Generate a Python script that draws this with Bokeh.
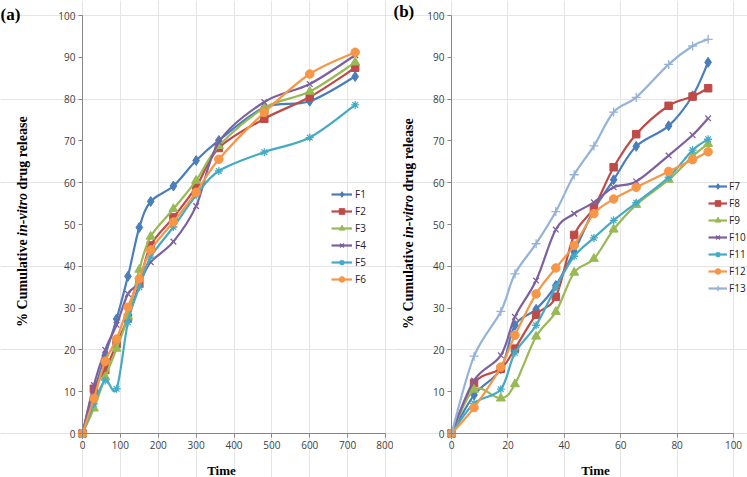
import math
from bokeh.plotting import figure
from bokeh.layouts import row
from bokeh.models import (Range1d, FixedTicker, Label, Legend, LegendItem, ColumnDataSource,
                          LinearAxis)
from bokeh.embed import file_html
from bokeh.resources import INLINE

# ---------------- data ----------------
time_a = [0, 30, 60, 90, 120, 150, 180, 240, 300, 360, 480, 600, 720]
F1 = [0, 9.8, 18.7, 27.4, 37.6, 49.3, 55.5, 59.2, 65.3, 70.1, 78.0, 79.5, 85.4]
F2 = [0, 10.7, 15.2, 21.4, 27.7, 35.8, 45.0, 51.7, 59.0, 68.3, 75.3, 80.5, 87.5]
F3 = [0, 6.0, 13.5, 20.3, 28.0, 39.2, 47.1, 53.7, 60.5, 68.8, 77.9, 81.8, 88.8]
F4 = [0, 11.6, 20.0, 26.0, 33.4, 36.0, 41.0, 45.9, 54.4, 69.7, 79.3, 83.6, 90.5]
F5 = [0, 7.1, 12.7, 10.7, 26.6, 35.0, 42.2, 49.4, 57.0, 62.8, 67.3, 70.8, 78.6]
F6 = [0, 8.4, 17.3, 22.6, 30.2, 37.0, 43.9, 50.6, 57.7, 65.6, 76.8, 86.0, 91.2]

time_b = [0, 8, 17.5, 22.5, 30, 37, 43.5, 50.5, 57.5, 65.5, 77, 85.5, 91]
F7 = [0, 9.2, 15.5, 25.9, 29.7, 35.4, 43.5, 53.5, 60.7, 68.7, 73.6, 80.8, 88.8]
F8 = [0, 12.1, 15.5, 20.3, 28.4, 32.7, 47.5, 54.0, 63.7, 71.6, 78.4, 80.6, 82.6]
F9 = [0, 10.5, 8.4, 11.8, 23.2, 29.1, 38.5, 41.8, 48.8, 54.7, 60.7, 66.3, 69.3]
F10 = [0, 12.7, 18.7, 27.9, 36.6, 48.8, 52.6, 55.3, 58.9, 60.3, 66.5, 71.4, 75.4]
F11 = [0, 7.2, 10.6, 19.3, 25.9, 35.0, 42.4, 46.8, 51.0, 55.2, 61.3, 67.8, 70.4]
F12 = [0, 6.2, 15.9, 23.5, 33.4, 39.6, 45.0, 52.6, 56.1, 58.9, 62.7, 65.5, 67.4]
F13 = [0, 18.5, 29.2, 38.2, 45.4, 53.1, 61.9, 68.8, 76.9, 80.4, 88.3, 92.7, 94.3]

x_ticks_a = [0, 100, 200, 300, 400, 500, 600, 700, 800]
x_ticks_b = [0, 20, 40, 60, 80, 100]
y_ticks = [0, 10, 20, 30, 40, 50, 60, 70, 80, 90, 100]

series_a = [("F1", F1), ("F2", F2), ("F3", F3), ("F4", F4), ("F5", F5), ("F6", F6)]
series_b = [("F7", F7), ("F8", F8), ("F9", F9), ("F10", F10), ("F11", F11), ("F12", F12),
            ("F13", F13)]

# ---------------- styles / layout (pixels) ----------------
H = 477
STYLES = [
    ("#4A7EBB", "diamond", 10),
    ("#BE4B48", "square", 7.5),
    ("#98B954", "triangle", 9),
    ("#7D60A0", "x", 8),
    ("#46AAC5", "asterisk", 8),
    ("#F79646", "circle", 8.5),
    ("#95B3D7", "cross", 9),
]
LINE_MARKERS = {"x", "asterisk", "cross"}


def smooth_source(xs, ys):
    n = len(xs)
    d = dict(x0=[], y0=[], x1=[], y1=[], cx0=[], cy0=[], cx1=[], cy1=[])
    for i in range(n - 1):
        xm, ym = (xs[i - 1], ys[i - 1]) if i > 0 else (xs[i], ys[i])
        xp, yp = (xs[i + 2], ys[i + 2]) if i + 2 < n else (xs[i + 1], ys[i + 1])
        d["x0"].append(xs[i]); d["y0"].append(ys[i])
        d["x1"].append(xs[i + 1]); d["y1"].append(ys[i + 1])
        d["cx0"].append(xs[i] + (xs[i + 1] - xm) / 6.0)
        d["cy0"].append(ys[i] + (ys[i + 1] - ym) / 6.0)
        d["cx1"].append(xs[i + 1] - (xp - xs[i]) / 6.0)
        d["cy1"].append(ys[i + 1] - (yp - ys[i]) / 6.0)
    return ColumnDataSource(d)


def make_fig(canvas_left, canvas_width, px0, px1, xmax, xticks):
    # axis origin / end positions in page pixels: x0->px0, xmax->px1 ; y 0->433, 100->15
    py0, py1 = 433.0, 15.0
    kx = (px1 - px0) / xmax
    ky = (py0 - py1) / 100.0
    x_start = -(px0 - canvas_left) / kx
    x_end = xmax + (canvas_left + canvas_width - px1) / kx
    y_start = -(H - py0) / ky
    y_end = 100 + py1 / ky
    p = figure(width=canvas_width, height=H, x_range=Range1d(x_start, x_end),
               y_range=Range1d(y_start, y_end), output_backend="svg", toolbar_location=None,
               x_axis_location=None, y_axis_location=None,
               min_border_left=0, min_border_right=0, min_border_top=0, min_border_bottom=0)
    p.outline_line_color = None
    p.background_fill_color = "white"
    p.border_fill_color = "white"
    xa = LinearAxis(fixed_location=0, bounds=(0, xmax), ticker=FixedTicker(ticks=xticks))
    ya = LinearAxis(fixed_location=0, bounds=(0, 100), ticker=FixedTicker(ticks=y_ticks))
    for ax in (xa, ya):
        ax.axis_line_color = "#868686"
        ax.major_tick_line_color = "#868686"
        ax.major_tick_out = 4
        ax.major_tick_in = 0
        ax.minor_tick_line_color = None
        ax.major_label_text_font = "Open Sans"
        ax.major_label_text_font_size = "10px"
        ax.major_label_text_color = "#404040"
        ax.major_label_standoff = 3
    p.add_layout(xa, "below")
    p.add_layout(ya, "left")
    return p


def add_series(p, xs, series, loc, gw, standoff):
    items = []
    for k, (name, ys) in enumerate(series):
        color, marker, size = STYLES[k]
        src = smooth_source(xs, ys)
        r_line = p.bezier(x0="x0", y0="y0", x1="x1", y1="y1", cx0="cx0", cy0="cy0",
                          cx1="cx1", cy1="cy1", source=src, line_color=color, line_width=2.2)
        if marker in LINE_MARKERS:
            r_mark = p.scatter(xs, ys, marker=marker, size=size, line_color=color,
                               line_width=1.3, fill_alpha=0)
        else:
            r_mark = p.scatter(xs, ys, marker=marker, size=size, line_color=color,
                               fill_color=color, line_width=1)
        items.append(LegendItem(label=name, renderers=[r_line, r_mark]))
    leg = Legend(items=items, location=loc, padding=0, spacing=3, glyph_width=gw,
                 glyph_height=14, label_height=14, label_standoff=standoff,
                 label_text_font="Open Sans", label_text_font_size="10px",
                 label_text_color="#222222", border_line_alpha=0, background_fill_alpha=0)
    p.add_layout(leg)


def add_ylabel(p, x, page_yc):
    fs = 14
    total = 15.056 * fs
    y0 = (H - page_yc) - total / 2
    parts = [("% Cumulative", "bold", 0.0), ("in-vitro", "bold italic", 6.5 * fs),
             ("drug release", "bold", 9.806 * fs)]
    for txt, style, off in parts:
        p.add_layout(Label(x=x, y=y0 + off, x_units="screen", y_units="screen", text=txt,
                           angle=math.pi / 2, text_font="Liberation Serif",
                           text_font_style=style, text_font_size="%dpx" % fs,
                           text_align="left", text_baseline="middle", text_color="black"))


def add_text(p, x, page_y, txt, size, align="center"):
    p.add_layout(Label(x=x, y=H - page_y, x_units="screen", y_units="screen", text=txt,
                       text_font="Liberation Serif", text_font_style="bold",
                       text_font_size=size, text_align=align, text_baseline="middle",
                       text_color="black"))


# ---------------- panel (a) ----------------
A_LEFT, A_W = 0, 393
p1 = make_fig(A_LEFT, A_W, 82.0, 385.0, 800, x_ticks_a)
add_series(p1, time_a, series_a, (331 - A_LEFT, H - 286), 21, 3)
add_ylabel(p1, 21.5 - A_LEFT, 221)
add_text(p1, 221 - A_LEFT, 470, "Time", "13px")
add_text(p1, 0, 14, "(a)", "17px", align="left")

# ---------------- panel (b) ----------------
B_LEFT, B_W = 393, 354
p2 = make_fig(B_LEFT, B_W, 451.0, 733.0, 100, x_ticks_b)
add_series(p2, time_b, series_b, (708 - B_LEFT, H - 295), 19, 2)
add_ylabel(p2, 408 - B_LEFT, 223)
add_text(p2, 595 - B_LEFT, 470, "Time", "13px")
add_text(p2, 0, 11, "(b)", "17px", align="left")

layout = row(p1, p2)
open("out.html", "w").write(file_html(layout, INLINE, title="Cumulative drug release"))
